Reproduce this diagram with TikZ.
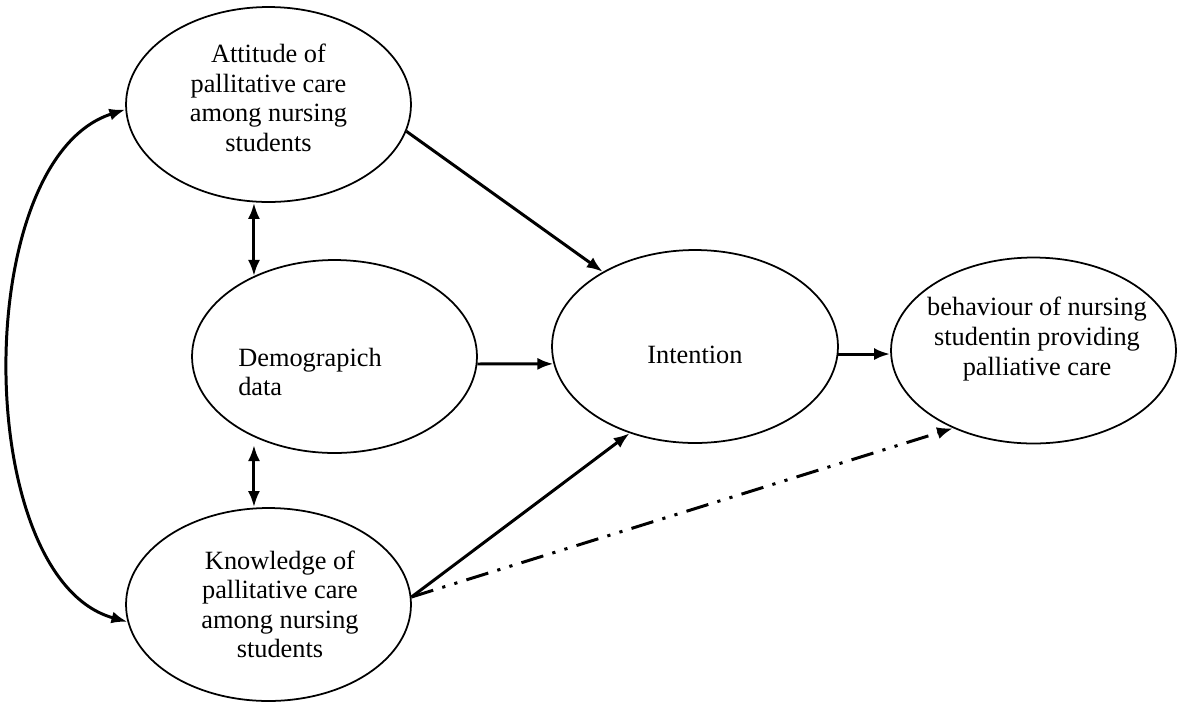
\documentclass[tikz,border=0pt]{standalone}
\usepackage{fontspec}
\setmainfont{Liberation Serif}
\usepackage{tikz}
\usetikzlibrary{arrows.meta,shapes.geometric,positioning}

\begin{document}
\begin{tikzpicture}[x=0.02cm, y=-0.02cm,
	oval/.style={ellipse, draw, line width=1pt, minimum width=5.7cm,
		minimum height=3.86cm, inner sep=0pt},
	txt/.style={align=center, font=\fontsize{15}{16.8}\selectfont},
	arr/.style={-{Latex[length=0.32cm, width=0.24cm]}, line width=1.7pt},
	dbl/.style={{Latex[length=0.32cm, width=0.24cm]}-{Latex[length=0.32cm, width=0.24cm]}, line width=1.7pt},
	dashdot/.style={arr, dash pattern=on 13pt off 5.4pt on 1.8pt off 5.4pt on 1.8pt off 5.4pt}]
	
	\useasboundingbox (0,0) rectangle (1177,704);
	
	% Left column
	\node[oval, minimum height=3.9cm,
		label={[txt, yshift=0.13cm]center:Attitude of\\pallitative care\\among nursing\\students}] (att) at (268.5,104.5) {};
	\node[oval,
		label={[txt, align=left, xshift=-0.49cm, yshift=-0.31cm]center:Demograpich\\data}] (dem) at (334.5,356.5) {};
	\node[oval,
		label={[txt, xshift=0.23cm]center:Knowledge of\\pallitative care\\among nursing\\students}] (kno) at (268.5,604.5) {};
	
	% Right part
	\node[oval, minimum width=5.72cm,
		label={[txt, yshift=-0.17cm]center:Intention}] (int) at (695,346.5) {};
	\node[oval, minimum height=3.72cm,
		label={[txt, xshift=0.07cm, yshift=0.23cm]center:behaviour of nursing\\studentin providing\\palliative care}] (beh) at (1033.5,350.5) {};
	
	% Arrows
	\draw[arr] (att.-11) -- (int.141);
	\draw[arr] (dem.-3) -- (int.-173);
	\draw[arr] (kno.3) -- (int.-127);
	\draw[arr] (int.-3) -- (int.-3 -| beh.west);
	\draw[dashdot] (kno.3) -- (beh.-136);
	\draw[dbl] (att.south -| dem.135) -- (dem.135);
	\draw[dbl, shorten <=0.16cm] (dem.-135) -- (kno.north -| dem.-135);
	\draw[dbl] (att.182) .. controls +(-156,50) and +(-156,-43) .. (kno.187);
\end{tikzpicture}
\end{document}
